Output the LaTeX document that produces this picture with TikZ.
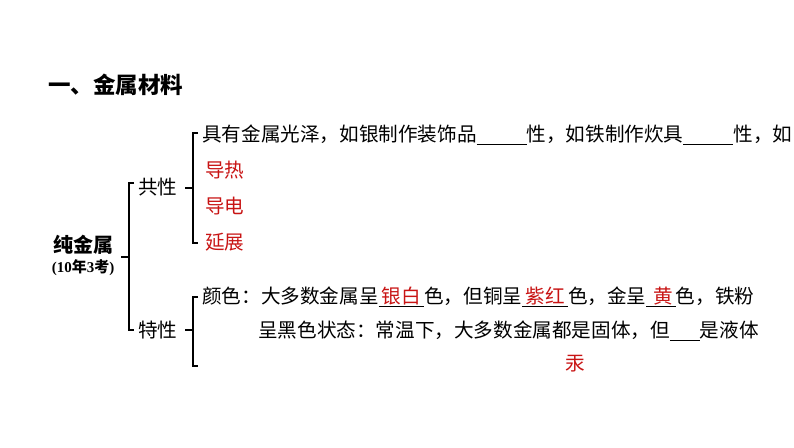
\documentclass[tikz,border=0pt]{standalone}
\usepackage{fontspec}
\newfontfamily\cjk{Noto Sans CJK SC}
\newfontfamily\cjkserif{Liberation Serif}
\definecolor{ans}{RGB}{200,20,20}
\newcommand{\blankline}[1]{\rule[-3pt]{#1}{0.8pt}}
\newcommand{\ansul}[1]{\underline{\textcolor{ans}{\,#1\,}}}
\begin{document}
\begin{tikzpicture}[x=1pt,y=-1pt,
  txt/.style={anchor=west,inner sep=0pt,font=\cjk\fontsize{19.6}{22}\selectfont},
  red/.style={txt,text=ans},
  brk/.style={line width=1.3pt}]
\useasboundingbox (0,0) rectangle (794,447);
\node[anchor=west,inner sep=0pt,font=\cjk\bfseries\fontsize{22.5}{24}\selectfont] (title) at (48,85) {一、金属材料};
\node[anchor=center,inner sep=0pt,font=\cjk\bfseries\fontsize{20}{22}\selectfont] (pure) at (83,245) {纯金属};
\node[anchor=center,inner sep=0pt,font=\cjkserif\bfseries\fontsize{15}{17}\selectfont] (exam) at (83,268) {(10{\cjk 年}3{\cjk 考})};
% main bracket
\draw[brk] (121,257) -- (129,257);
\draw[brk] (134,183) -- (129,183) -- (129,330) -- (134,330);
\node[txt] (com) at (138,187) {共性};
\node[txt] (spec) at (138,330) {特性};
% common bracket
\draw[brk] (185,188) -- (193,188);
\draw[brk] (198,133) -- (193,133) -- (193,243) -- (198,243);
\node[txt] (l1) at (202,135) {具有金属光泽，如银制作装饰品\blankline{50pt}性，如铁制作炊具\blankline{50pt}性，如};
\node[red] (r1) at (205,170) {导热};
\node[red] (r2) at (205,206) {导电};
\node[red] (r3) at (205,242) {延展};
% special bracket
\draw[brk] (185,330) -- (193,330);
\draw[brk] (198,297) -- (193,297) -- (193,366) -- (198,366);
\node[txt] (c1) at (202,297) {颜色：大多数金属呈\ansul{银白}色，但铜呈\ansul{紫红}色，金呈\ansul{\,黄}色，铁粉};
\node[txt] (c2) at (258,331) {呈黑色状态：常温下，大多数金属都是固体，但\blankline{30pt}是液体};
\node[red] (hg) at (565,364) {汞};
\end{tikzpicture}
\end{document}
